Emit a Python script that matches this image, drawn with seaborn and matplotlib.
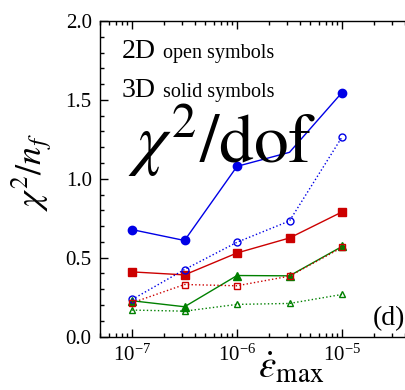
import numpy as np
import pandas as pd
import matplotlib
matplotlib.use("Agg")
import matplotlib.pyplot as plt
import seaborn as sns
from matplotlib.ticker import MultipleLocator, LogLocator, FormatStrFormatter

# strain-rate tolerance values (x axis)
eps_max = [1e-7, 3.16e-7, 1e-6, 3.16e-6, 1e-5]

# chi^2 / n_f, 3D runs (solid symbols)
blue_3d = [0.678, 0.609, 1.079, 1.168, 1.547]
red_3d = [0.410, 0.391, 0.530, 0.625, 0.790]
green_3d = [0.227, 0.189, 0.387, 0.385, 0.571]

# chi^2 / n_f, 2D runs (open symbols)
blue_2d = [0.235, 0.425, 0.598, 0.733, 1.265]
red_2d = [0.214, 0.330, 0.322, 0.383, 0.565]
green_2d = [0.168, 0.161, 0.204, 0.210, 0.267]

sns.set_style("ticks")
plt.rcParams["font.family"] = ["Liberation Serif", "DejaVu Serif"]
plt.rcParams["mathtext.fontset"] = "stix"
plt.rcParams["xtick.direction"] = "in"
plt.rcParams["ytick.direction"] = "in"
for k in ["text.color", "axes.labelcolor", "xtick.color", "ytick.color", "axes.edgecolor"]:
    plt.rcParams[k] = "black"

fig = plt.figure(figsize=(4.05, 3.9), dpi=100)
ax = fig.add_axes([0.247, 0.137, 0.938, 0.809])

BLUE, RED, GREEN = "#0000e6", "#cc0000", "#008000"

# (values, colour, marker, linestyle, filled, size, which points get a marker)
series = [
    (blue_3d, BLUE, "o", "-", True, 6, [0, 1, 2, 4]),  # 4th marker hidden under the label
    (red_3d, RED, "s", "-", True, 6, None),
    (green_3d, GREEN, "^", "-", True, 6, None),
    (blue_2d, BLUE, "o", ":", False, 5, None),
    (red_2d, RED, "s", ":", False, 5, None),
    (green_2d, GREEN, "^", ":", False, 5, None),
]

for vals, col, mk, ls, filled, ms, every in series:
    df = pd.DataFrame({"eps": eps_max, "chi": vals})
    sns.lineplot(data=df, x="eps", y="chi", ax=ax, color=col, marker=mk,
                 linestyle=ls, linewidth=1.0, markersize=ms, markevery=every,
                 markerfacecolor=col if filled else "none",
                 markeredgecolor=col, markeredgewidth=1.0)

ax.set_xscale("log")
ax.set_xlim(4.95e-8, 2.06e-4)
ax.set_ylim(0, 2.0)
ax.yaxis.set_major_locator(MultipleLocator(0.5))
ax.yaxis.set_minor_locator(MultipleLocator(0.1))
ax.xaxis.set_major_locator(LogLocator(base=10, numticks=10))
ax.xaxis.set_minor_locator(LogLocator(base=10, subs=np.arange(2, 10), numticks=20))
ax.yaxis.set_major_formatter(FormatStrFormatter("%.1f"))

ax.tick_params(which="both", top=True, right=True, labelsize=15, width=1.0)
ax.tick_params(which="major", length=6, pad=6)
ax.tick_params(which="minor", length=3)
for s in ax.spines.values():
    s.set_linewidth(1.0)

ax.set_xlabel(r"$\dot{\epsilon}_{\max}$", fontsize=28)
ax.set_ylabel(r"$\chi^2/n_f$", fontsize=26)
ax.xaxis.set_label_coords(0.503, -0.043)
ax.yaxis.set_label_coords(-0.122, 0.521)

# annotations
fig.text(122 / 405, 1 - 58 / 390, "2D", fontsize=20, va="baseline")
fig.text(163 / 405, 1 - 58 / 390, "open symbols", fontsize=14.5, va="baseline")
fig.text(122 / 405, 1 - 97 / 390, "3D", fontsize=20, va="baseline")
fig.text(163 / 405, 1 - 97 / 390, "solid symbols", fontsize=14.5, va="baseline")
fig.text(128 / 405, 1 - 163 / 390, r"$\chi^2/\mathrm{dof}$", fontsize=50,
         va="baseline")
fig.text(373 / 405, 1 - 325 / 390, "(d)", fontsize=20, va="baseline")

fig.savefig("out.png", dpi=100)
